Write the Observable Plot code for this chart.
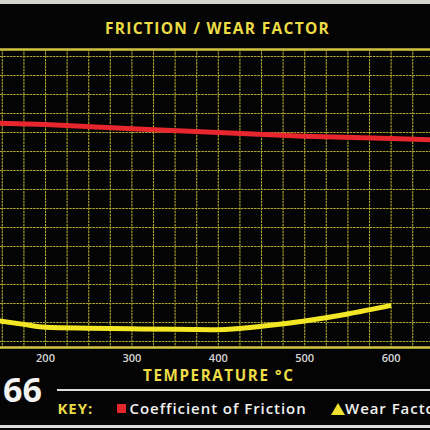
<!DOCTYPE html>
<html><head><meta charset="utf-8">
<script src="https://cdn.jsdelivr.net/npm/d3@7"></script>
<script src="https://cdn.jsdelivr.net/npm/@observablehq/plot@0.6"></script>
<style>
html,body{margin:0;padding:0;background:#000;}
#wrap{position:relative;width:430px;height:430px;overflow:hidden;background:#040404;font-family:"Open Sans",sans-serif;}
.abs{position:absolute;white-space:nowrap;line-height:1;}
</style></head><body>
<div id="wrap">
  <div class="abs" style="left:0;top:0;width:430px;height:4px;background:#d4d6ce"></div>
  <div class="abs" id="title" style="left:105px;top:21.3px;font-size:15.5px;font-weight:700;letter-spacing:1.3px;color:#ecdc46"></div>
  <div class="abs" id="chart" style="left:0;top:45px"></div>
  <div class="abs" id="xlabel" style="left:143px;top:367.5px;font-size:15.2px;font-weight:700;letter-spacing:1.6px;color:#ecdc46"></div>
  <div class="abs" id="pagenum" style="left:3px;top:371.8px;font-size:34px;font-weight:700;color:#f2f2f2"></div>
  <div class="abs" style="left:57px;top:388.5px;width:373px;height:2.5px;background:#dedede"></div>
  <div class="abs" id="keylab" style="left:57.5px;top:400.7px;font-size:15px;font-weight:700;letter-spacing:0.9px;color:#ecdc46"></div>
  <div class="abs" style="left:117px;top:404px;width:9px;height:9px;background:#e5262b"></div>
  <div class="abs" id="key1" style="left:129.5px;top:400.7px;font-size:15px;font-weight:600;letter-spacing:0.95px;color:#f0f0f0"></div>
  <div class="abs" style="left:331px;top:403px;width:0;height:0;border-left:7px solid transparent;border-right:7px solid transparent;border-bottom:12px solid #f0e030"></div>
  <div class="abs" id="key2" style="left:345px;top:400.7px;font-size:15px;font-weight:600;letter-spacing:0.95px;color:#f0f0f0"></div>
  <div class="abs" style="left:0;top:425px;width:430px;height:3px;background:#dcdcdc"></div>
</div>
<script>
// ---- data ----
const titleText = "FRICTION / WEAR FACTOR";
const xLabelText = "TEMPERATURE °C";
const pageNumber = "66";
const keyLabel = "KEY:";
const seriesNames = ["Coefficient of Friction", "Wear Factor"];

const xTicks = [200, 300, 400, 500, 600];
const gridX = [150,175,200,225,250,275,300,325,350,375,400,425,450,475,500,525,550,575,600,625];
const gridY = [0,1,2,3,4,5,6,7,8,9,10,11,12,13,14,15];

const frictionTemp  = [140, 200, 300, 400, 500, 600, 660];
const frictionValue = [11.5, 11.42, 11.2, 11.0, 10.8, 10.68, 10.6];

const wearTemp  = [140, 175, 200, 250, 300, 350, 400, 450, 500, 550, 600];
const wearValue = [1.12, 0.9, 0.75, 0.7, 0.67, 0.64, 0.62, 0.8, 1.08, 1.45, 1.9];

// ---- build ----
document.getElementById("title").textContent = titleText;
document.getElementById("xlabel").textContent = xLabelText;
document.getElementById("pagenum").textContent = pageNumber;
document.getElementById("keylab").textContent = keyLabel;
document.getElementById("key1").textContent = seriesNames[0];
document.getElementById("key2").textContent = seriesNames[1];

const friction = frictionTemp.map((t, i) => ({t, v: frictionValue[i]}));
const wear = wearTemp.map((t, i) => ({t, v: wearValue[i]}));

const yDom = [-0.316, 15.368];
const GRID = "#aea634";
const BORDER = "#d2c440";

const chart = Plot.plot({
  width: 430, height: 322,
  marginTop: 4, marginBottom: 20, marginLeft: 0, marginRight: 0,
  style: {background: "transparent", color: "#d8d8d8", fontFamily: "Open Sans", fontSize: "11px", overflow: "visible"},
  x: {domain: [147.9, 645.6]},
  y: {domain: yDom, axis: null},
  marks: [
    Plot.ruleX(gridX, {stroke: GRID, strokeWidth: 1.1, strokeDasharray: "2.5,0.8"}),
    Plot.ruleY(gridY, {stroke: GRID, strokeWidth: 1.1, strokeDasharray: "2.5,0.8"}),
    Plot.ruleY(yDom, {stroke: BORDER, strokeWidth: 2.6}),
    Plot.line(friction, {x: "t", y: "v", stroke: "#e8262e", strokeWidth: 5, clip: true, strokeLinecap: "butt"}),
    Plot.line(wear, {x: "t", y: "v", stroke: "#f2e625", strokeWidth: 5, clip: true, strokeLinecap: "butt", curve: "monotone-x"}),
    Plot.axisX(xTicks, {tickSize: 0, tickPadding: 7, label: null, fill: "#d8d8d8", fontWeight: 600})
  ]
});
document.getElementById("chart").appendChild(chart);
</script>
</body></html>
